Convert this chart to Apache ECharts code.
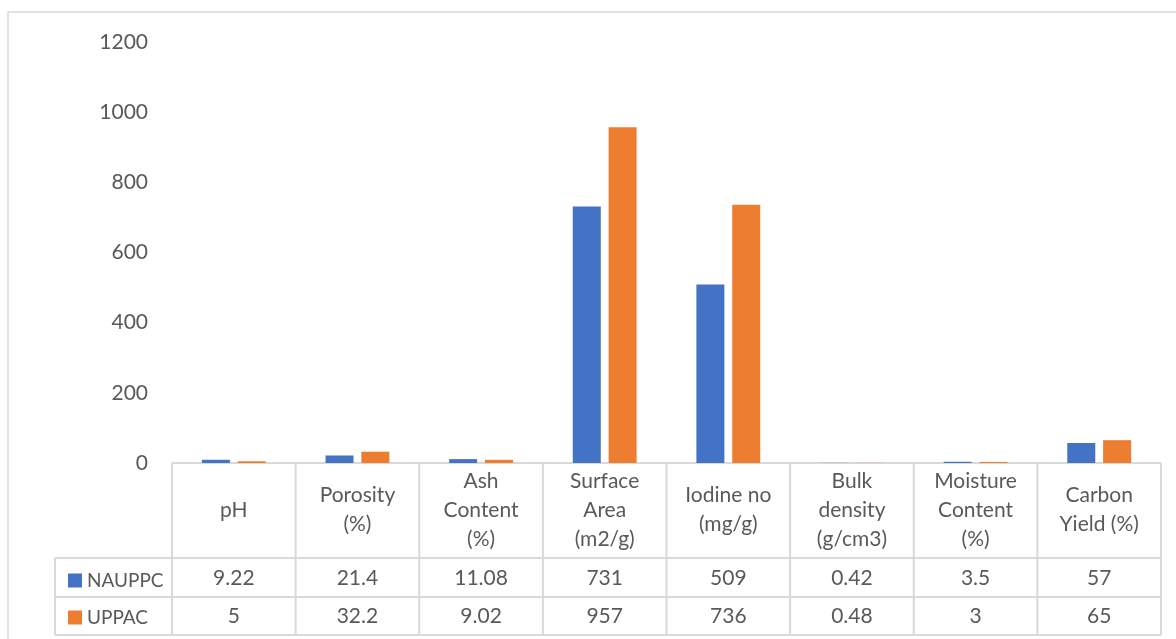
<!DOCTYPE html>
<html>
<meta charset="UTF-8">
<title>activated carbon properties</title>
<style type="text/css">
    html,
    body {
        margin: 0px;
        height: 100%;
        width: 100%;
        background: #fff;
    }

    #chart {
        width: 1176px;
        height: 639px;
    }
</style>
<script src="https://cdn.jsdelivr.net/npm/echarts@6/dist/echarts.min.js"></script>

<body>
    <div id="chart"></div>
    <script>
        const categories = ['pH', 'Porosity\n(%)', 'Ash\nContent\n(%)', 'Surface\nArea\n(m2/g)', 'Iodine no\n(mg/g)',
            'Bulk\ndensity\n(g/cm3)', 'Moisture\nContent\n(%)', 'Carbon\nYield (%)'];
        const nauppc = [9.22, 21.4, 11.08, 731, 509, 0.42, 3.5, 57];
        const uppac = [5, 32.2, 9.02, 957, 736, 0.48, 3, 65];
        const seriesNames = ['NAUPPC', 'UPPAC'];
        const yTicks = [0, 200, 400, 600, 800, 1000, 1200];

        const textColor = '#595959';
        const lineColor = '#D9D9D9';
        const font = 'Lato, "Open Sans", sans-serif';
        const fs = 21;

        // table geometry (px)
        const left = 172, right = 1161, zeroY = 463;
        const colW = (right - left) / categories.length;
        const rowY = [463, 558, 597, 635];
        const legendLeft = 55;

        const chart = echarts.init(document.querySelector('#chart'));

        const graphics = [];
        // outer frame
        graphics.push({
            type: 'rect', shape: { x: 8, y: 12, width: 1180, height: 640 },
            style: { fill: 'none', stroke: lineColor, lineWidth: 1.5 }, silent: true
        });
        for (let i = 0; i <= categories.length; i++) {
            const x = left + i * colW;
            graphics.push({
                type: 'line', shape: { x1: x, y1: rowY[0], x2: x, y2: rowY[3] },
                style: { stroke: lineColor, lineWidth: 2 }, silent: true
            });
        }
        graphics.push({
            type: 'line', shape: { x1: legendLeft, y1: rowY[1], x2: legendLeft, y2: rowY[3] },
            style: { stroke: lineColor, lineWidth: 2 }, silent: true
        });
        graphics.push({
            type: 'line', shape: { x1: left, y1: rowY[0], x2: right, y2: rowY[0] },
            style: { stroke: lineColor, lineWidth: 2 }, silent: true
        });
        for (let r = 1; r < rowY.length; r++) {
            graphics.push({
                type: 'line', shape: { x1: legendLeft, y1: rowY[r], x2: right, y2: rowY[r] },
                style: { stroke: lineColor, lineWidth: 2 }, silent: true
            });
        }

        const baseX = {
            type: 'category',
            data: categories,
            gridIndex: 0,
            position: 'bottom',
            axisTick: { show: false },
            axisLine: { show: false },
            splitLine: { show: false }
        };

        const options = {
            animation: false,
            textStyle: { fontFamily: font },
            grid: { left: left, right: 1176 - right, top: 42, bottom: 639 - zeroY },
            legend: {
                orient: 'vertical',
                left: 63,
                top: 566,
                icon: 'rect',
                itemWidth: 14,
                itemHeight: 14,
                itemGap: 18,
                textStyle: { color: textColor, fontSize: 19, fontFamily: font },
                data: seriesNames
            },
            xAxis: [
                Object.assign({}, baseX, {
                    axisLabel: {
                        interval: 0, color: textColor, fontSize: fs, lineHeight: 29,
                        verticalAlign: 'middle', align: 'center', margin: 47
                    }
                }),
                Object.assign({}, baseX, {
                    axisLabel: {
                        interval: 0, color: textColor, fontSize: fs, verticalAlign: 'middle', margin: 115,
                        formatter: (v, i) => String(nauppc[i])
                    }
                }),
                Object.assign({}, baseX, {
                    axisLabel: {
                        interval: 0, color: textColor, fontSize: fs, verticalAlign: 'middle', margin: 153,
                        formatter: (v, i) => String(uppac[i])
                    }
                })
            ],
            yAxis: {
                type: 'value',
                min: yTicks[0],
                max: yTicks[yTicks.length - 1],
                interval: 200,
                axisLine: { show: false },
                axisTick: { show: false },
                splitLine: { show: false },
                axisLabel: { color: textColor, fontSize: fs, margin: 24, formatter: v => String(v) }
            },
            series: [
                {
                    name: seriesNames[0], type: 'bar', data: nauppc,
                    barWidth: 28, barGap: '28%',
                    itemStyle: { color: '#4472C4' }
                },
                {
                    name: seriesNames[1], type: 'bar', data: uppac,
                    barWidth: 28, barGap: '28%',
                    itemStyle: { color: '#ED7D31' }
                }
            ],
            graphic: graphics
        };
        chart.setOption(options);
    </script>
</body>

</html>
